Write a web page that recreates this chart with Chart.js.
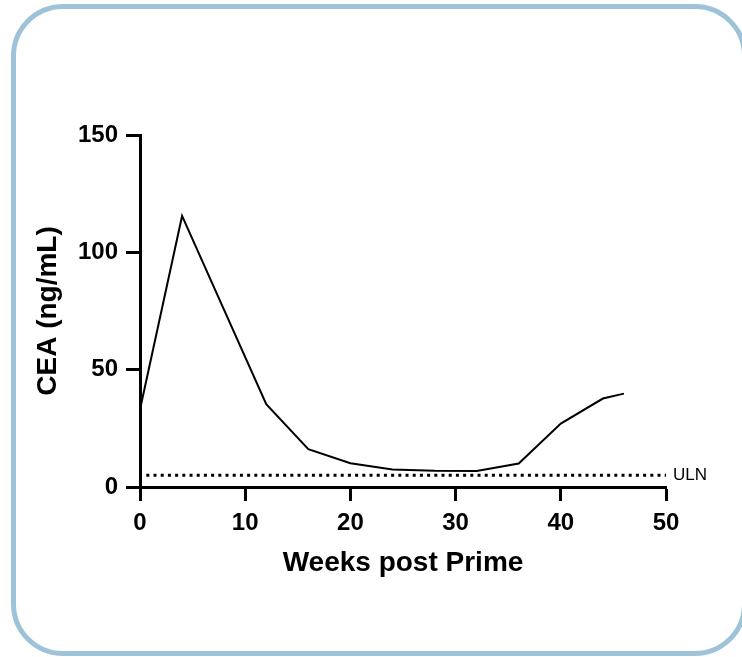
<!DOCTYPE html>
<html>
<head>
<meta charset="utf-8">
<script src="https://cdn.jsdelivr.net/npm/chart.js@4"></script>
<style>
  html, body { margin: 0; padding: 0; background: #fff; }
  #wrap { position: relative; width: 742px; height: 657px; overflow: hidden; }
  #frame {
    position: absolute; left: 11px; top: 4px; width: 726px; height: 642px;
    border: 5.5px solid #9ec3d8; border-radius: 52px; pointer-events: none;
  }
  canvas { position: absolute; left: 0; top: 0; }
</style>
</head>
<body>
<div id="wrap">
  <canvas id="cea" width="742" height="657"></canvas>
  <div id="frame"></div>
</div>
<script>
// valores
const weeks = [0, 4, 12, 16, 20, 24, 28, 32, 36, 40, 44, 46];
const cea = [33, 115.5, 35.3, 16.1, 10.1, 7.5, 6.9, 6.8, 10.0, 27.0, 37.7, 39.8];
const ulnWeeks = [0.6, 50];
const ulnValue = 5;
const xTicks = [0, 10, 20, 30, 40, 50];
const yTicks = [0, 50, 100, 150];

const FONT = "'Liberation Sans', Arial, Helvetica, sans-serif";

// rotulo ULN no fim da linha pontilhada
const ulnLabel = {
  id: 'ulnLabel',
  afterDatasetsDraw(chart) {
    const { ctx, scales: { x, y } } = chart;
    ctx.save();
    ctx.font = '17px ' + FONT;
    ctx.fillStyle = '#000';
    ctx.textAlign = 'left';
    ctx.textBaseline = 'middle';
    ctx.fillText('ULN', x.getPixelForValue(ulnWeeks[1]) + 7, y.getPixelForValue(ulnValue));
    ctx.restore();
  }
};

new Chart(document.getElementById('cea'), {
  type: 'line',
  data: {
    datasets: [
      {
        label: 'CEA',
        data: weeks.map((w, i) => ({ x: w, y: cea[i] })),
        borderColor: '#000',
        borderWidth: 2,
        pointRadius: 0,
        tension: 0,
        fill: false
      },
      {
        label: 'ULN',
        data: ulnWeeks.map(w => ({ x: w, y: ulnValue })),
        borderColor: '#000',
        borderWidth: 3,
        borderDash: [3, 4.2],
        pointRadius: 0,
        fill: false
      }
    ]
  },
  options: {
    responsive: false,
    animation: false,
    layout: { padding: { left: 20, right: 76, top: 135, bottom: 60 } },
    plugins: {
      legend: { display: false },
      tooltip: { enabled: false }
    },
    scales: {
      x: {
        type: 'linear',
        min: 0,
        max: 50,
        afterBuildTicks: s => { s.ticks = xTicks.map(v => ({ value: v })); },
        afterFit: s => { s.height = 110; },
        ticks: {
          color: '#000',
          padding: 8,
          maxRotation: 0,
          font: { family: FONT, size: 24, weight: 'bold' }
        },
        grid: {
          display: true,
          drawOnChartArea: false,
          drawTicks: true,
          tickLength: 14,
          tickWidth: 3,
          tickColor: '#000'
        },
        border: { display: true, color: '#000', width: 3 },
        title: {
          display: true,
          text: 'Weeks post Prime',
          color: '#000',
          padding: { top: 0, bottom: 17 },
          font: { family: FONT, size: 28, weight: 'bold' }
        }
      },
      y: {
        min: 0,
        max: 150,
        afterBuildTicks: s => { s.ticks = yTicks.map(v => ({ value: v })); },
        afterFit: s => { s.width = 120; },
        ticks: {
          color: '#000',
          padding: 8,
          font: { family: FONT, size: 24, weight: 'bold' }
        },
        grid: {
          display: true,
          drawOnChartArea: false,
          drawTicks: true,
          tickLength: 14,
          tickWidth: 3,
          tickColor: '#000'
        },
        border: { display: true, color: '#000', width: 3 },
        title: {
          display: true,
          text: 'CEA (ng/mL)',
          color: '#000',
          padding: { top: 11, bottom: 0 },
          font: { family: FONT, size: 28, weight: 'bold' }
        }
      }
    }
  },
  plugins: [ulnLabel]
});
</script>
</body>
</html>
